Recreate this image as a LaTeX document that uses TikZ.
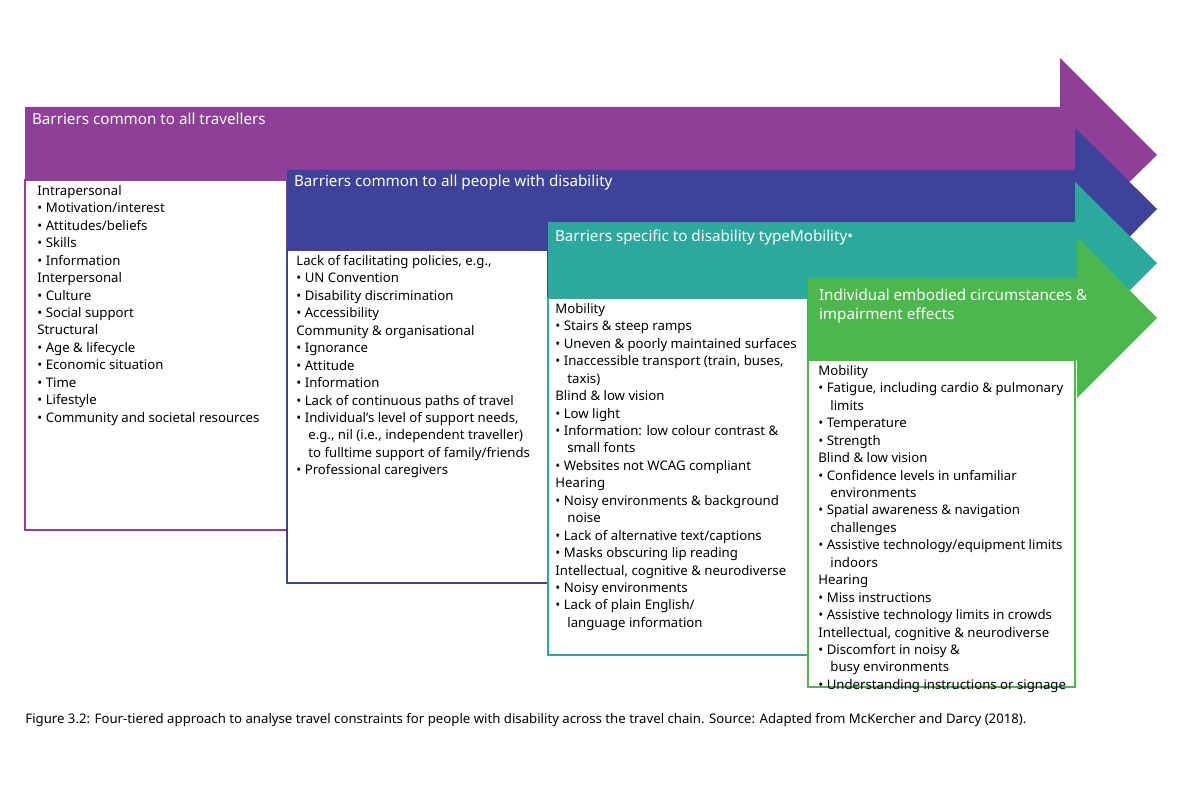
\documentclass[tikz,border=0pt]{standalone}
\usepackage{fontspec}
\setmainfont{Noto Sans}
\definecolor{tierA}{HTML}{8E3F97}
\definecolor{tierB}{HTML}{3E4299}
\definecolor{tierC}{HTML}{2BA99C}
\definecolor{tierD}{HTML}{4DB74E}
\begin{document}
\begin{tikzpicture}[
            x = 0.5pt, y = -0.5pt, % pixel grid, y downward
            band/.style = {fill = #1, draw = none},
            panel/.style = {draw = #1, line width = 0.8pt, fill = white},
            head/.style = {anchor = west, text = white, font = \fontsize{7.6}{9.4}\selectfont, align = left},
            body/.style = {anchor = north west, align = left, inner sep = 0pt, font = \fontsize{6.6}{8.72}\selectfont}
        ]
        \useasboundingbox (0,0) rectangle (1200,808);

        % tier 1
        \fill[band=tierA] (25,107) -- (1060,107) -- (1060,58) -- (1157,155) -- (1060,250) -- (1060,180) -- (25,180) -- cycle;
        \draw[panel=tierA] (25,180) rectangle (287,530);
        \node[head] (hA) at (25,119) {Barriers common to all travellers};
        \node[body] (tA) at (37,185) {Intrapersonal\\
            • Motivation/interest\\ • Attitudes/beliefs\\ • Skills\\ • Information\\
            Interpersonal\\ • Culture\\ • Social support\\
            Structural\\ • Age \& lifecycle\\ • Economic situation\\ • Time\\ • Lifestyle\\ • Community and societal resources};

        % tier 2
        \fill[band=tierB] (287,170) -- (1075,170) -- (1075,128) -- (1157,209) -- (1075,292) -- (1075,250) -- (287,250) -- cycle;
        \draw[panel=tierB] (287,250) rectangle (548,583);
        \node[head] (hB) at (287,183) {Barriers common to all people with disability};
        \node[body] (tB) at (296,255) {Lack of facilitating policies, e.g.,\\
            • UN Convention\\ • Disability discrimination\\ • Accessibility\\
            Community \& organisational\\ • Ignorance\\ • Attitude\\ • Information\\
            • Lack of continuous paths of travel\\
            • Individual’s level of support needs,\\ \hspace*{6pt}e.g., nil (i.e., independent traveller)\\ \hspace*{6pt}to fulltime support of family/friends\\
            • Professional caregivers};

        % tier 3
        \fill[band=tierC] (548,222) -- (1075,222) -- (1075,182) -- (1157,263) -- (1075,345) -- (1075,298) -- (548,298) -- cycle;
        \draw[panel=tierC] (548,298) rectangle (808,655);
        \node[head] (hC) at (548,238) {Barriers specific to disability typeMobility•};
        \node[body] (tC) at (555,303) {Mobility\\
            • Stairs \& steep ramps\\ • Uneven \& poorly maintained surfaces\\
            • Inaccessible transport (train, buses,\\ \hspace*{6pt}taxis)\\
            Blind \& low vision\\ • Low light\\ • Information: low colour contrast \&\\ \hspace*{6pt}small fonts\\
            • Websites not WCAG compliant\\
            Hearing\\ • Noisy environments \& background\\ \hspace*{6pt}noise\\
            • Lack of alternative text/captions\\ • Masks obscuring lip reading\\
            Intellectual, cognitive \& neurodiverse\\ • Noisy environments\\
            • Lack of plain English/\\ \hspace*{6pt}language information};

        % tier 4
        \fill[band=tierD] (808,278) -- (1077,278) -- (1077,237) -- (1157,318) -- (1077,398) -- (1077,360) -- (808,360) -- cycle;
        \draw[panel=tierD] (808,360) rectangle (1075,687);
        \node[head] (hD) at (812,306) {Individual embodied circumstances \&\\ impairment effects};
        \node[body] (tD) at (818,365) {Mobility\\
            • Fatigue, including cardio \& pulmonary\\ \hspace*{6pt}limits\\ • Temperature\\ • Strength\\
            Blind \& low vision\\ • Confidence levels in unfamiliar\\ \hspace*{6pt}environments\\
            • Spatial awareness \& navigation\\ \hspace*{6pt}challenges\\
            • Assistive technology/equipment limits\\ \hspace*{6pt}indoors\\
            Hearing\\ • Miss instructions\\ • Assistive technology limits in crowds\\
            Intellectual, cognitive \& neurodiverse\\ • Discomfort in noisy \&\\ \hspace*{6pt}busy environments\\
            • Understanding instructions or signage};

        % caption
        \node[anchor = west, inner sep = 0pt, font = \fontsize{6.6}{8}\selectfont] (cap) at (25,720)
            {\textbf{Figure 3.2:} Four-tiered approach to analyse travel constraints for people with disability across the travel chain. Source: Adapted from McKercher and Darcy (2018).};
    \end{tikzpicture}
\end{document}
